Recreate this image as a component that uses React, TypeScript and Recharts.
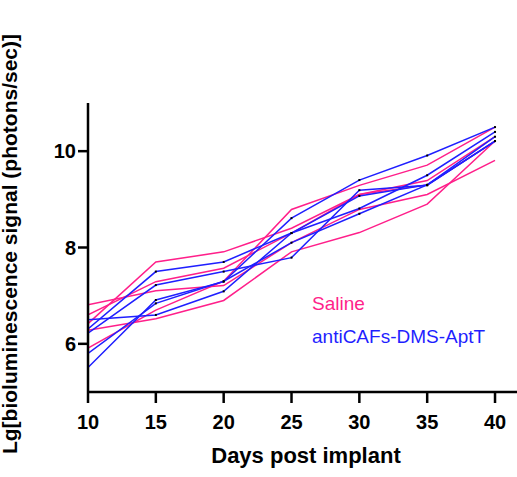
import React from "react";
import { LineChart, Line, XAxis, YAxis, Customized } from "recharts";

const days = [10, 15, 20, 25, 30, 35, 40];
const xTicks = [10, 15, 20, 25, 30, 35, 40];
const yTicks = [6, 8, 10];

const saline1 = [6.42, 7.7, 7.91, 8.4, 9.1, 9.39, 10.3];
const saline2 = [6.6, 7.29, 7.57, 8.3, 9.1, 9.3, 10.21];
const saline3 = [6.81, 7.1, 7.21, 8.1, 8.79, 9.1, 9.81];
const saline4 = [5.91, 6.7, 7.3, 8.79, 9.29, 9.71, 10.5];
const saline5 = [6.28, 6.52, 6.9, 7.91, 8.31, 8.9, 10.21];

const anti1 = [6.31, 7.5, 7.7, 8.3, 8.81, 9.5, 10.4];
const anti2 = [6.22, 7.22, 7.5, 7.79, 9.19, 9.29, 10.21];
const anti3 = [5.51, 6.91, 7.29, 8.61, 9.4, 9.91, 10.5];
const anti4 = [5.8, 6.84, 7.3, 8.1, 8.7, 9.3, 10.21];
const anti5 = [6.5, 6.6, 7.09, 8.3, 9.07, 9.3, 10.3];

const salineSeries = [saline1, saline2, saline3, saline4, saline5];
const antiSeries = [anti1, anti2, anti3, anti4, anti5];

const data = days.map((d, i) => {
  const row: Record<string, number> = { day: d };
  salineSeries.forEach((s, k) => (row[`s${k + 1}`] = s[i]));
  antiSeries.forEach((s, k) => (row[`a${k + 1}`] = s[i]));
  return row;
});

const PINK = "#FF1F8A";
const BLUE = "#1F1FFF";
const FONT = "Arial, 'Liberation Sans', sans-serif";

const BlackDot = (props: any) => {
  const { cx, cy } = props;
  if (cx == null || cy == null) return null;
  return <rect x={cx - 1} y={cy - 1} width={2} height={2} fill="#000" />;
};

const XTick = (props: any) => {
  const { x, y, payload } = props;
  return (
    <text x={x} y={y} dy={24} textAnchor="middle" fontFamily={FONT} fontWeight="bold" fontSize={20} fill="#000">
      {payload.value}
    </text>
  );
};

const YTick = (props: any) => {
  const { x, y, payload } = props;
  return (
    <text x={x} y={y} dy={7} textAnchor="end" fontFamily={FONT} fontWeight="bold" fontSize={20} fill="#000">
      {payload.value}
    </text>
  );
};

const Texts = () => (
  <g>
    <text x={312} y={310} fontFamily={FONT} fontSize={19} fill={PINK}>Saline</text>
    <text x={312} y={343} fontFamily={FONT} fontSize={19} fill={BLUE}>antiCAFs-DMS-AptT</text>
    <text x={306} y={463} textAnchor="middle" fontFamily={FONT} fontWeight="bold" fontSize={22} fill="#000">
      Days post implant
    </text>
    <text
      x={17}
      y={244}
      textAnchor="middle"
      transform="rotate(-90 17 244)"
      fontFamily={FONT}
      fontWeight="bold"
      fontSize={21}
      fill="#000"
    >
      Lg[bioluminescence signal (photons/sec)]
    </text>
  </g>
);

export default function App() {
  return (
    <div style={{ position: "absolute", left: 0, top: 0 }}>
      <LineChart width={517} height={477} data={data} margin={{ top: 103, right: 0, bottom: 55, left: 28 }}>
        <XAxis
          dataKey="day"
          type="number"
          domain={[10, 41.62]}
          ticks={xTicks}
          height={30}
          allowDataOverflow
          tick={<XTick />}
          tickSize={11}
          stroke="#000"
          strokeWidth={2.5}
          tickLine={{ stroke: "#000", strokeWidth: 2.5 }}
          axisLine={{ stroke: "#000", strokeWidth: 2.5 }}
        />
        <YAxis
          type="number"
          domain={[5, 11]}
          ticks={yTicks}
          width={60}
          allowDataOverflow
          tick={<YTick />}
          tickSize={10}
          stroke="#000"
          strokeWidth={2.5}
          tickLine={{ stroke: "#000", strokeWidth: 2.5 }}
          axisLine={{ stroke: "#000", strokeWidth: 2.5 }}
        />
        {salineSeries.map((_, k) => (
          <Line
            key={`s${k}`}
            dataKey={`s${k + 1}`}
            stroke={PINK}
            strokeWidth={1.5}
            dot={false}
            activeDot={false}
            isAnimationActive={false}
            type="linear"
          />
        ))}
        {antiSeries.map((_, k) => (
          <Line
            key={`a${k}`}
            dataKey={`a${k + 1}`}
            stroke={BLUE}
            strokeWidth={1.5}
            dot={<BlackDot />}
            activeDot={false}
            isAnimationActive={false}
            type="linear"
          />
        ))}
        <Customized component={<Texts />} />
      </LineChart>
    </div>
  );
}
